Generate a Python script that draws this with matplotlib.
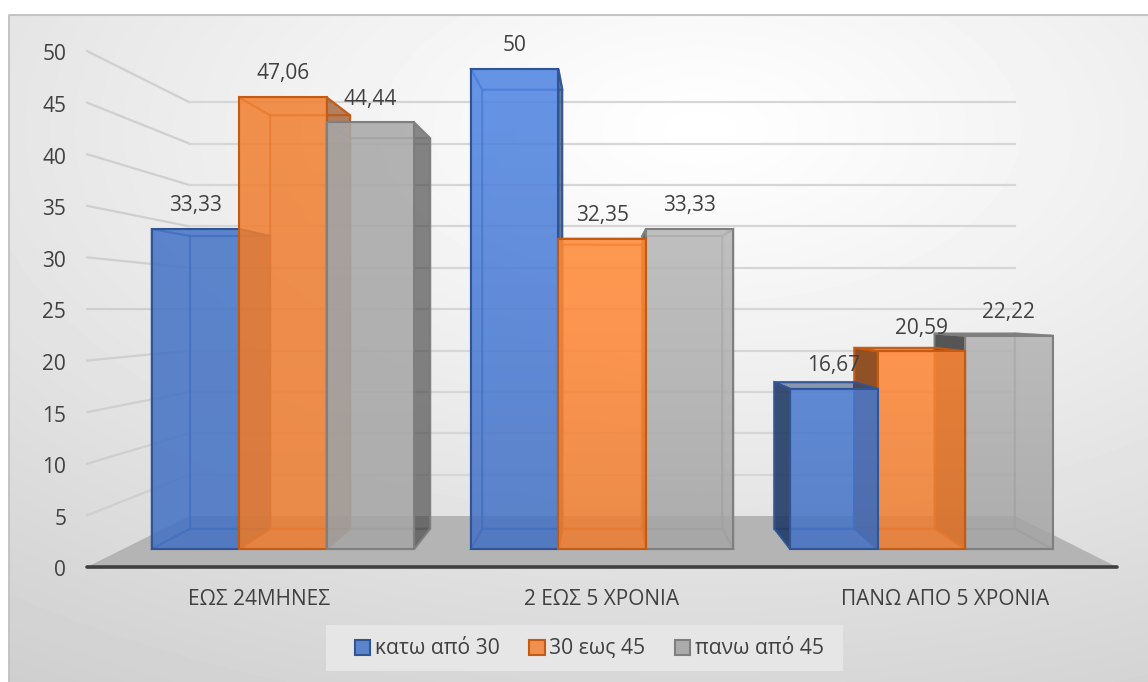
import numpy as np
import matplotlib
matplotlib.use("Agg")
import matplotlib.pyplot as plt
from matplotlib.colors import to_rgba, to_rgb
from matplotlib.patches import Polygon, Patch, Rectangle
from matplotlib.transforms import ScaledTranslation

plt.rcParams['font.family'] = ['Open Sans', 'DejaVu Sans']

# Data
categories = ['ΕΩΣ 24ΜΗΝΕΣ', '2 ΕΩΣ 5 ΧΡΟΝΙΑ', 'ΠΑΝΩ ΑΠΟ 5 ΧΡΟΝΙΑ']
series_names = ['κατω από 30', '30 εως 45', 'πανω από 45']
under_30 = [33.33, 50, 16.67]
from_30_to_45 = [47.06, 32.35, 20.59]
over_45 = [44.44, 33.33, 22.22]
value_labels = [['33,33', '50', '16,67'],
                ['47,06', '32,35', '20,59'],
                ['44,44', '33,33', '22,22']]
y_ticks = [0, 5, 10, 15, 20, 25, 30, 35, 40, 45, 50]

# Colours per series
front_colors = ['#4472c4', '#ed7d31', '#a5a5a5']
legend_colors = ['#5b85cb', '#ef8f50', '#ababab']
dark_colors = ['#1f3864', '#843c0c', '#404040']
edge_colors = ['#2f5597', '#c55a11', '#7f7f7f']
text_color = '#404040'
# How much the front faces brighten towards the top, per category
light_slope = [0.02, 0.15, 0.18]

# Perspective settings: everything shrinks towards a vanishing point
VX, VY = 1.506, 24.94
K_WALL = 0.802
K_FRONT = 0.93
K_BACK = 0.851
BAR_W = 1 / 3.65


def project(x, y, k):
    return (VX + (x - VX) * k, VY + (y - VY) * k)


def face(ax, pts, color, alpha, edge, edge_alpha, lw=1.5, z=3):
    ax.add_patch(Polygon(pts, closed=True, facecolor=to_rgba(color, alpha),
                         edgecolor=to_rgba(edge, edge_alpha),
                         linewidth=lw, joinstyle='miter', clip_on=False, zorder=z))


def front_face(ax, f, value, i, c):
    # vertical shading on the front face, then its outline on top
    m_top = 1 + light_slope[c] * value / 47.0
    rows = 64
    m = np.linspace(m_top, 1.0, rows)[:, None, None]
    rgb = np.clip(np.array(to_rgb(front_colors[i]))[None, None, :] * m, 0, 1)
    rgba = np.dstack([rgb, np.full((rows, 1), 0.85)])
    im = ax.imshow(rgba, extent=(f[0][0], f[1][0], f[0][1], f[3][1]), origin='upper',
                   aspect='auto', interpolation='bilinear', zorder=3)
    im.set_clip_on(False)
    face(ax, f, front_colors[i], 0.0, edge_colors[i], 1.0)


def draw_bar(ax, x0, x1, value, i, c):
    # corners, front and back
    f = [project(x0, 0, K_FRONT), project(x1, 0, K_FRONT),
         project(x1, value, K_FRONT), project(x0, value, K_FRONT)]
    b = [project(x0, 0, K_BACK), project(x1, 0, K_BACK),
         project(x1, value, K_BACK), project(x0, value, K_BACK)]
    col, dark, edge = front_colors[i], dark_colors[i], edge_colors[i]

    left = [f[0], b[0], b[3], f[3]]
    right = [f[1], b[1], b[2], f[2]]
    top = [f[3], f[2], b[2], b[3]]
    bottom = [f[0], f[1], b[1], b[0]]

    # inner faces first, they only show through
    face(ax, b, col, 0.08, edge, 0.5)
    face(ax, bottom, col, 0.12, edge, 0.5)
    if x0 <= VX <= x1:
        face(ax, left, col, 0.08, edge, 0.5)
        face(ax, right, col, 0.08, edge, 0.5)
    elif x1 < VX:
        face(ax, left, col, 0.08, edge, 0.5)
        face(ax, right, dark, 0.62, edge, 0.9)
    else:
        face(ax, right, col, 0.08, edge, 0.5)
        face(ax, left, dark, 0.88, edge, 0.9)
    if value < VY:
        face(ax, top, dark, 0.45, edge, 0.9)
    else:
        face(ax, top, col, 0.08, edge, 0.6)
    front_face(ax, f, value, i, c)


fig = plt.figure(figsize=(11.48, 6.82), dpi=100, facecolor='white')

# Chart area background with soft radial shading
bg = fig.add_axes([0, 0, 1, 1])
yy, xx = np.mgrid[0:682, 0:1148]
dist = np.sqrt(((xx - 700) / 800.0) ** 2 + ((yy - 130) / 430.0) ** 2)
shade = np.clip(255 - 30 * dist ** 1.1, 205, 255)
bg.imshow(shade, cmap='gray', vmin=0, vmax=255, extent=(0, 1148, 682, 0), aspect='auto',
          interpolation='bilinear')
bg.add_patch(Rectangle((8.5, 14.5), 1160, 680, fill=False, edgecolor='#c4c4c4', linewidth=1.5))
bg.add_patch(Rectangle((0, 0), 1148, 14, facecolor='white', edgecolor='none'))
bg.add_patch(Rectangle((0, 0), 8, 682, facecolor='white', edgecolor='none'))
bg.add_patch(Rectangle((326, 625), 517, 46, facecolor='#e6e6e6', edgecolor='none'))
bg.set_xlim(0, 1148)
bg.set_ylim(682, 0)
bg.axis('off')

# Main axes: x in category units, y in value units on the front plane
ax = fig.add_axes([87 / 1148, 1 - 567 / 682, 1030 / 1148, 516 / 682])
ax.patch.set_visible(False)
for s in ax.spines.values():
    s.set_visible(False)

# Floor
floor = [project(0, 0, 1), project(3, 0, 1), project(3, 0, K_WALL), project(0, 0, K_WALL)]
ax.add_patch(Polygon(floor, closed=True, facecolor='#b4b4b4', edgecolor='none', clip_on=False, zorder=1))

# Gridlines on the back wall and the left wall
for v in y_ticks[1:]:
    p0 = project(0, v, 1)
    p1 = project(0, v, K_WALL)
    p2 = project(3, v, K_WALL)
    ax.plot([p0[0], p1[0]], [p0[1], p1[1]], color='#cfcfcf', lw=1.6, clip_on=False, zorder=2,
            solid_capstyle='round')
    ax.plot([p1[0], p2[0]], [p1[1], p2[1]], color='#d6d6d6', lw=1.6, clip_on=False, zorder=2)

# Bars, furthest from the vanishing point drawn first
all_series = [under_30, from_30_to_45, over_45]
gap = (1 - 3 * BAR_W) / 2
for c in range(len(categories)):
    order = []
    for i in range(3):
        x0 = c + gap + i * BAR_W
        order.append((abs(x0 + BAR_W / 2 - VX), i, x0))
    order.sort(reverse=True)
    for _, i, x0 in order:
        draw_bar(ax, x0, x0 + BAR_W, all_series[i][c], i, c)

# Value labels sit above the front top edge
for i in range(3):
    for c in range(len(categories)):
        x0 = c + gap + i * BAR_W
        xp, yp = project(x0 + BAR_W / 2, all_series[i][c], K_FRONT)
        ax.annotate(value_labels[i][c], (xp, yp), xytext=(0, 16.8), textcoords='offset points',
                    ha='center', va='center', fontsize=15, color=text_color, zorder=6,
                    annotation_clip=False)

# Front edge of the floor
ax.plot([0, 3], [0, 0], color='#404040', lw=2.6, solid_capstyle='round', clip_on=False, zorder=5)

ax.set_xlim(0, 3)
ax.set_ylim(0, 50)
ax.set_yticks(y_ticks)
ax.set_xticks([0.5, 1.5, 2.5])
ax.set_xticklabels(categories)
ax.tick_params(axis='y', length=0, pad=15, labelsize=15, labelcolor=text_color)
ax.tick_params(axis='x', length=0, pad=16, labelsize=15, labelcolor=text_color)
nudge = ScaledTranslation(0, -1 / 72, fig.dpi_scale_trans)
for lab in ax.get_yticklabels():
    lab.set_transform(lab.get_transform() + nudge)

handles = [Patch(facecolor=legend_colors[i], edgecolor=edge_colors[i], linewidth=1.5) for i in range(3)]
fig.legend(handles, series_names, ncol=3, frameon=False, fontsize=15.2, labelcolor=text_color,
           loc='center', bbox_to_anchor=(589.5 / 1148, 1 - 649 / 682),
           handlelength=0.72, handleheight=0.72, handletextpad=0.22, columnspacing=1.4,
           borderpad=0, borderaxespad=0)

fig.savefig('out.png', dpi=100)
